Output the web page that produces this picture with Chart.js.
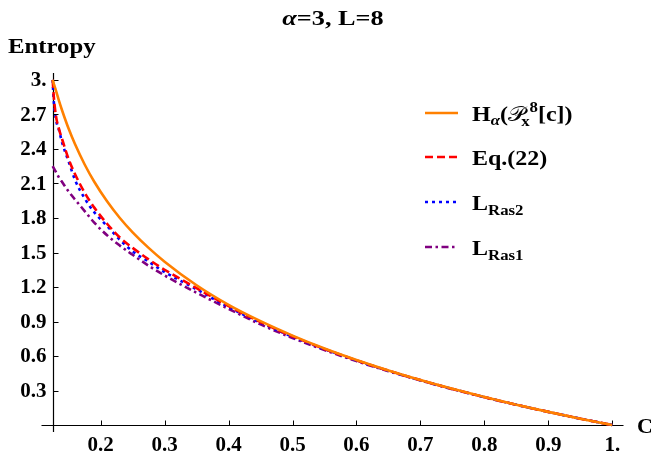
<!DOCTYPE html>
<html>
<head>
<meta charset="utf-8">
<script src="https://cdn.jsdelivr.net/npm/chart.js@4.4.1/dist/chart.umd.min.js"></script>
<style>
  html, body { margin: 0; padding: 0; background: #fff; }
  #wrap { width: 651px; height: 459px; }
</style>
</head>
<body>
<div id="wrap"><canvas id="entropyChart" width="651" height="459"></canvas></div>
<script>
// valores de c (pureza) onde as curvas foram amostradas
const cValues = [0.125, 0.1265, 0.13, 0.135, 0.14, 0.15, 0.16, 0.175, 0.19, 0.21, 0.23, 0.25, 0.275, 0.3,
                 0.35, 0.4, 0.45, 0.5, 0.55, 0.6, 0.65, 0.7, 0.75, 0.8, 0.85, 0.9, 0.95, 1.0];

// H_alpha(P_x^8[c])
const renyiValues = [3.0, 2.97, 2.91, 2.815, 2.73, 2.575, 2.44, 2.265, 2.115, 1.945, 1.80, 1.675, 1.54, 1.42,
                     1.215, 1.045, 0.903, 0.778, 0.666, 0.566, 0.475, 0.392, 0.315, 0.244, 0.177, 0.115, 0.056, 0];
// Eq.(22)
const eq22Values = [3.0, 2.87, 2.69, 2.57, 2.48, 2.31, 2.18, 2.02, 1.89, 1.75, 1.63, 1.54, 1.44, 1.35,
                    1.19, 1.035, 0.895, 0.772, 0.662, 0.563, 0.473, 0.391, 0.314, 0.243, 0.177, 0.115, 0.056, 0];
// L_Ras2
const ras2Values = [3.0, 2.83, 2.66, 2.56, 2.45, 2.29, 2.13, 1.97, 1.85, 1.73, 1.61, 1.51, 1.42, 1.33,
                    1.18, 1.025, 0.89, 0.768, 0.66, 0.561, 0.472, 0.39, 0.314, 0.243, 0.177, 0.115, 0.056, 0];
// L_Ras1
const ras1Values = [2.25, 2.235, 2.20, 2.15, 2.11, 2.03, 1.96, 1.86, 1.76, 1.65, 1.56, 1.48, 1.385, 1.30,
                    1.15, 1.01, 0.875, 0.757, 0.652, 0.556, 0.468, 0.388, 0.312, 0.242, 0.176, 0.115, 0.056, 0];

const xTicks = [0.2, 0.3, 0.4, 0.5, 0.6, 0.7, 0.8, 0.9, 1.0];
const xTickLabels = ['0.2', '0.3', '0.4', '0.5', '0.6', '0.7', '0.8', '0.9', '1.'];
const yTicks = [0.3, 0.6, 0.9, 1.2, 1.5, 1.8, 2.1, 2.4, 2.7, 3.0];
const yTickLabels = ['0.3', '0.6', '0.9', '1.2', '1.5', '1.8', '2.1', '2.4', '2.7', '3.'];

const SERIF = '"Liberation Serif", "DejaVu Serif", serif';

function toPoints(values) {
    return cValues.map((c, i) => ({ x: c, y: values[i] }));
}

// largura total de uma sequência de pedaços de texto
function richWidth(ctx, parts) {
    let w = 0;
    parts.forEach(p => {
        ctx.font = p.font;
        if (p.back) w -= p.back;
        w += ctx.measureText(p.t).width;
    });
    return w;
}

// desenha texto com sub/sobrescritos, esticado na horizontal por sx
function drawRich(ctx, parts, x, y, sx) {
    ctx.save();
    ctx.translate(x, y);
    ctx.scale(sx || 1, 1);
    ctx.textBaseline = 'alphabetic';
    ctx.textAlign = 'left';
    let cx = 0;
    parts.forEach(p => {
        ctx.font = p.font;
        if (p.back) cx -= p.back;
        ctx.fillText(p.t, cx, p.dy || 0);
        cx += ctx.measureText(p.t).width;
    });
    ctx.restore();
}

// eixos no estilo Mathematica: cruzam em (1/8, 0), marcas para dentro
const axesPlugin = {
    id: 'mmaAxes',
    beforeDatasetsDraw(chart) {
        const ctx = chart.ctx;
        const xs = chart.scales.x, ys = chart.scales.y, area = chart.chartArea;
        const x0 = Math.round(xs.getPixelForValue(cValues[0])) + 0.5;
        const y0 = Math.round(ys.getPixelForValue(0)) + 0.5;

        ctx.save();
        ctx.strokeStyle = '#000';
        ctx.lineWidth = 1.2;
        ctx.beginPath();
        ctx.moveTo(area.left, y0); ctx.lineTo(area.right, y0);
        ctx.moveTo(x0, area.top); ctx.lineTo(x0, area.bottom);
        ctx.stroke();

        ctx.lineWidth = 1;
        ctx.beginPath();
        xTicks.forEach(v => {
            const px = Math.round(xs.getPixelForValue(v)) + 0.5;
            ctx.moveTo(px, y0); ctx.lineTo(px, y0 - 5);
        });
        yTicks.forEach(v => {
            const py = Math.round(ys.getPixelForValue(v)) + 0.5;
            ctx.moveTo(x0, py); ctx.lineTo(x0 + 5, py);
        });
        ctx.stroke();

        ctx.fillStyle = '#000';
        ctx.font = 'bold 21px ' + SERIF;
        ctx.textAlign = 'center';
        ctx.textBaseline = 'middle';
        xTicks.forEach((v, i) => {
            ctx.fillText(xTickLabels[i], xs.getPixelForValue(v), y0 + 20);
        });
        ctx.textAlign = 'right';
        yTicks.forEach((v, i) => {
            ctx.fillText(yTickLabels[i], x0 - 7, ys.getPixelForValue(v) + 1);
        });
        ctx.restore();
    },
    afterDraw(chart) {
        const ctx = chart.ctx;
        const y0 = chart.scales.y.getPixelForValue(0);
        ctx.save();
        ctx.fillStyle = '#000';

        // título
        const title = [
            { t: 'α', font: 'italic bold 21px ' + SERIF },
            { t: '=3, L=8', font: 'bold 21px ' + SERIF }
        ];
        const titleStretch = 1.25;
        const tw = richWidth(ctx, title) * titleStretch;
        drawRich(ctx, title, 333 - tw / 2, 25, titleStretch);

        // rótulos dos eixos
        drawRich(ctx, [{ t: 'Entropy', font: 'bold 21px ' + SERIF }], 8, 53, 1.18);
        drawRich(ctx, [{ t: 'C', font: 'bold 22px ' + SERIF }], 637, y0 + 8, 1);

        // legenda
        const rowsY = [113, 157, 202, 247];
        const big = 'bold 20px ' + SERIF;
        const small = 'bold 14px ' + SERIF;
        const labels = [
            [
                { t: 'H', font: big },
                { t: 'α', font: 'italic bold 14px ' + SERIF, dy: 4 },
                { t: '(', font: big },
                { t: '𝒫', font: '20px "DejaVu Sans", ' + SERIF },
                { t: 'x', font: small, dy: 5, back: 3 },
                { t: '8', font: small, dy: -9 },
                { t: '[c])', font: big }
            ],
            [{ t: 'Eq.(22)', font: big }],
            [{ t: 'L', font: big }, { t: 'Ras2', font: small, dy: 5 }],
            [{ t: 'L', font: big }, { t: 'Ras1', font: small, dy: 5 }]
        ];
        chart.data.datasets.forEach((ds, i) => {
            const y = rowsY[i];
            ctx.save();
            ctx.strokeStyle = ds.borderColor;
            ctx.lineWidth = ds.borderWidth;
            ctx.setLineDash(ds.borderDash || []);
            ctx.beginPath();
            ctx.moveTo(425, y); ctx.lineTo(458, y);
            ctx.stroke();
            ctx.restore();
            drawRich(ctx, labels[i], 472, y + 8, 1.2);
        });
        ctx.restore();
    }
};

function init() {
    const ctx = document.getElementById('entropyChart').getContext('2d');
    const lineBase = { pointRadius: 0, borderWidth: 2.6, fill: false, cubicInterpolationMode: 'monotone' };

    new Chart(ctx, {
        type: 'line',
        data: {
            datasets: [
                Object.assign({ label: 'H', data: toPoints(renyiValues), borderColor: 'rgb(255,128,0)' }, lineBase),
                Object.assign({ label: 'Eq.(22)', data: toPoints(eq22Values), borderColor: 'rgb(255,0,0)',
                                borderDash: [8, 4] }, lineBase),
                Object.assign({ label: 'LRas2', data: toPoints(ras2Values), borderColor: 'rgb(0,0,255)',
                                borderDash: [3, 4] }, lineBase),
                Object.assign({ label: 'LRas1', data: toPoints(ras1Values), borderColor: 'rgb(128,0,128)',
                                borderDash: [7, 3.5, 2.5, 3.5] }, lineBase)
            ]
        },
        options: {
            responsive: false,
            animation: false,
            devicePixelRatio: 1,
            layout: { padding: { left: 41.5, right: 27.5, top: 73, bottom: 27 } },
            scales: {
                x: { type: 'linear', min: 0.1075, max: 1.0175, display: false },
                y: { type: 'linear', min: -0.06, max: 3.06, display: false }
            },
            plugins: {
                legend: { display: false },
                title: { display: false },
                tooltip: { enabled: false }
            }
        },
        plugins: [axesPlugin]
    });
}

window.onload = init;
</script>
</body>
</html>
